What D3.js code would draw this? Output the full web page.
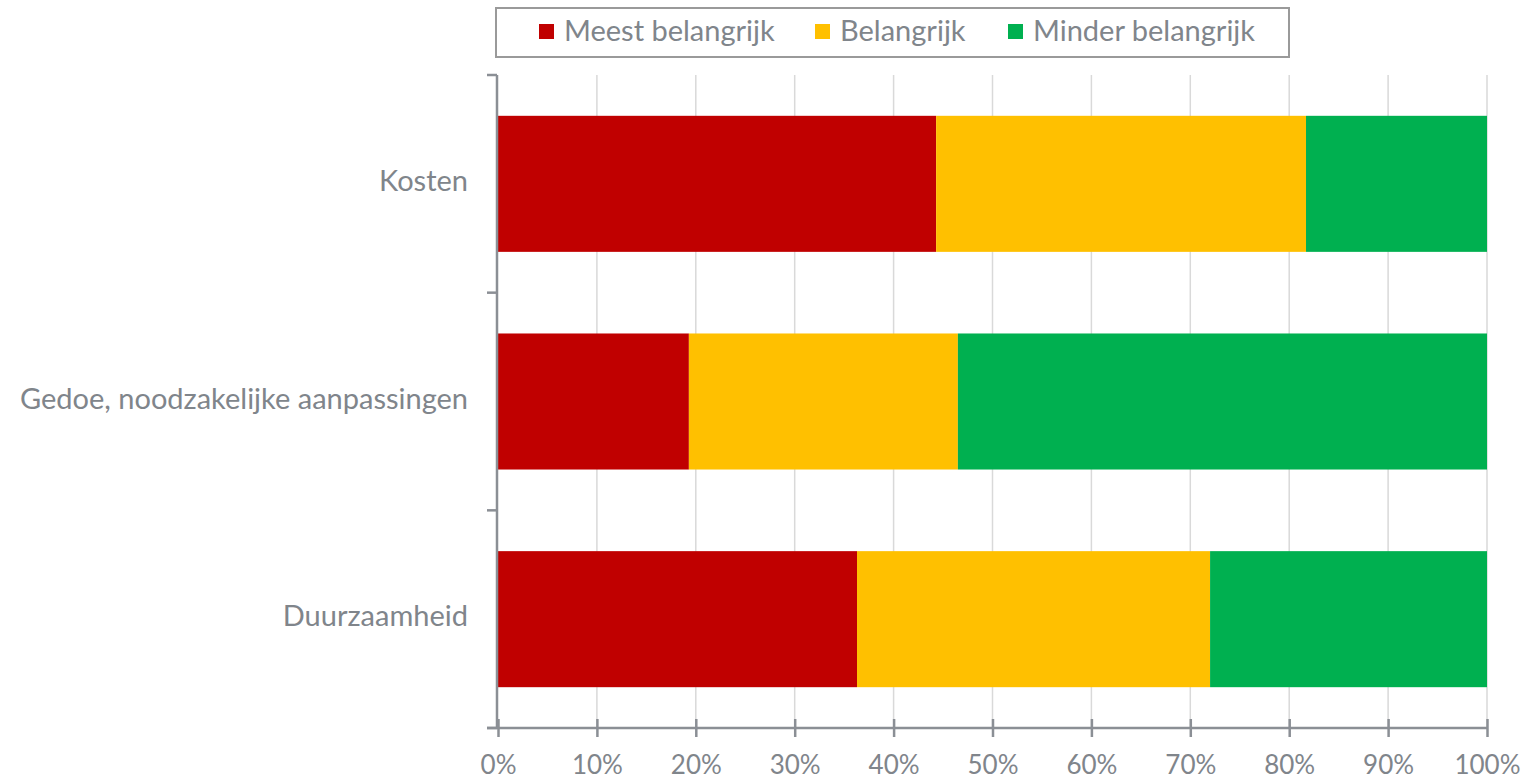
<!DOCTYPE html>
<html>
<head>
<meta charset="utf-8">
<script src="https://cdn.jsdelivr.net/npm/d3@7"></script>
<style>
  body { margin: 0; background: #fff; }
  text { font-family: Lato, "Open Sans", sans-serif; fill: #80858b; }
</style>
</head>
<body>
<script>
const categories = ['Kosten', 'Gedoe, noodzakelijke aanpassingen', 'Duurzaamheid']
const seriesNames = ['Meest belangrijk', 'Belangrijk', 'Minder belangrijk']
const meestBelangrijk = [44.3, 19.3, 36.3]
const belangrijk = [37.4, 27.2, 35.7]
const minderBelangrijk = [18.3, 53.5, 28.0]
const seriesColors = ['#c00000', '#ffc000', '#00b050']
const xTicks = [0, 10, 20, 30, 40, 50, 60, 70, 80, 90, 100]

const width = 1526, height = 782
const margin = { top: 75, right: 39, bottom: 54, left: 497 }

const svg = d3.select('body').append('svg')
  .attr('width', width)
  .attr('height', height)

const rows = categories.map((c, i) => ({
  cat: c,
  'Meest belangrijk': meestBelangrijk[i],
  'Belangrijk': belangrijk[i],
  'Minder belangrijk': minderBelangrijk[i]
}))
const stacked = d3.stack().keys(seriesNames)(rows)

const x = d3.scaleLinear().domain([0, 100]).range([margin.left + 1, width - margin.right])
const y = d3.scaleBand().domain(categories)
  .range([margin.top, height - margin.bottom])
  .paddingInner(0.375).paddingOuter(0.1875)

// gridlines
svg.append('g').selectAll('line')
  .data(xTicks.slice(1))
  .join('line')
  .attr('x1', d => x(d)).attr('x2', d => x(d))
  .attr('y1', margin.top).attr('y2', height - margin.bottom)
  .attr('stroke', '#d9d9d9')
  .attr('stroke-width', 1.5)

// bars
svg.append('g').selectAll('g')
  .data(stacked)
  .join('g')
  .attr('fill', (d, i) => seriesColors[i])
  .selectAll('rect')
  .data(d => d)
  .join('rect')
  .attr('x', d => x(d[0]))
  .attr('width', d => x(d[1]) - x(d[0]))
  .attr('y', d => y(d.data.cat))
  .attr('height', y.bandwidth())

const axisColor = '#8b8f95'

// x axis
const xAxis = svg.append('g')
  .attr('transform', `translate(0,${height - margin.bottom})`)
  .call(d3.axisBottom(x).tickValues(xTicks).tickFormat(d => d + '%').tickSize(9).tickSizeOuter(0))
xAxis.select('.domain').attr('stroke', axisColor).attr('stroke-width', 2.5)
  .attr('d', `M${margin.left - 10},0H${x(100)}`)
xAxis.selectAll('.tick line').attr('stroke', axisColor).attr('stroke-width', 2.5).attr('y1', -9)
xAxis.selectAll('.tick text')
  .attr('y', 46)
  .attr('dy', 0)
  .style('font-size', '26px')
  .style('fill', '#80858b')

// y axis
const yAxis = svg.append('g')
  .attr('transform', `translate(${margin.left},0)`)
yAxis.append('line')
  .attr('x1', 0).attr('x2', 0)
  .attr('y1', margin.top).attr('y2', height - margin.bottom)
  .attr('stroke', axisColor).attr('stroke-width', 2.5)
const bounds = categories.map(c => y(c) - y.step() * y.paddingInner() / 2)
bounds[0] = margin.top
bounds.push(height - margin.bottom)
yAxis.selectAll('.ytick')
  .data(bounds)
  .join('line')
  .attr('x1', -10).attr('x2', 0)
  .attr('y1', d => d).attr('y2', d => d)
  .attr('stroke', axisColor).attr('stroke-width', 2.5)
yAxis.selectAll('text')
  .data(categories)
  .join('text')
  .attr('x', -29)
  .attr('y', c => y(c) + y.bandwidth() / 2)
  .attr('dy', '0.25em')
  .attr('text-anchor', 'end')
  .style('font-size', '29px')
  .text(c => c)

// legend
const legend = svg.append('g')
legend.append('rect')
  .attr('x', 496).attr('y', 8)
  .attr('width', 793).attr('height', 49)
  .attr('fill', '#fff')
  .attr('stroke', '#9a9a9a')
  .attr('stroke-width', 2)
const legendX = [539, 815, 1008]
seriesNames.forEach((s, i) => {
  legend.append('rect')
    .attr('x', legendX[i]).attr('y', 24)
    .attr('width', 15).attr('height', 15)
    .attr('fill', seriesColors[i])
  legend.append('text')
    .attr('x', legendX[i] + 25).attr('y', 41)
    .style('font-size', '29px')
    .text(s)
})
</script>
</body>
</html>
